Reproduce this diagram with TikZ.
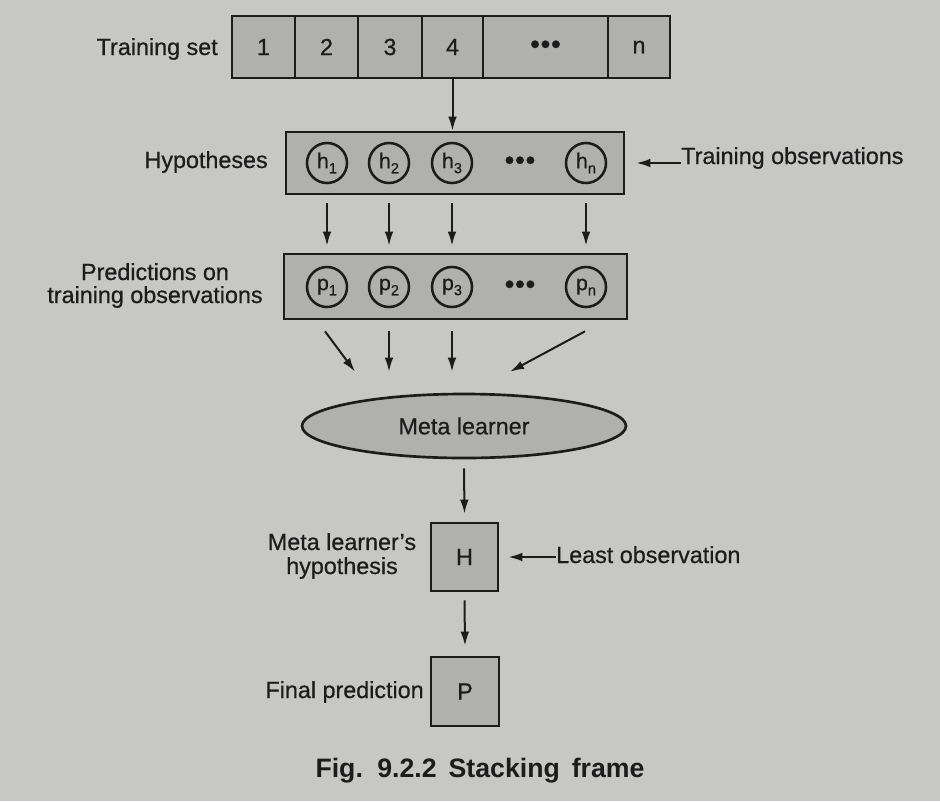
\documentclass[tikz,border=0pt]{standalone}
\usepackage{fontspec}
\setmainfont{Liberation Sans}
\newfontfamily\lblfam{Liberation Sans}[FakeBold=0.6,Ligatures=TeX]
\usetikzlibrary{arrows.meta,shapes.geometric,calc}
\definecolor{bg}{RGB}{199,200,198}
\definecolor{boxfill}{RGB}{176,177,175}
\definecolor{ink}{RGB}{28,28,28}
\newcommand\lblfont{\lblfam\fontsize{17.5pt}{21pt}\selectfont}
\newcommand\subidx[1]{\raisebox{-0.45ex}{\fontsize{11pt}{11pt}\selectfont #1}}
\newcommand\tdots{\raisebox{-2.2pt}{\fontsize{21pt}{21pt}\selectfont\char"2022\kern0.5pt\char"2022\kern0.5pt\char"2022}}
\begin{document}
\begin{tikzpicture}[x=0.75pt,y=-0.75pt,
  lbl/.style={inner sep=0pt,font=\lblfont,text=ink},
  cell/.style={draw=ink,line width=2pt,fill=boxfill,inner sep=0pt,minimum height=62*0.75pt,font=\lblfont,text=ink},
  circ/.style={circle,draw=ink,line width=1.9pt,minimum size=40*0.75pt,inner sep=0pt,font=\lblfam\fontsize{16pt}{16pt}\selectfont,text=ink},
  arr/.style={-{Latex[length=10.5pt,width=6.5pt]},line width=1.5pt,draw=ink}]
\path[fill=bg,use as bounding box] (0,0) rectangle (940,801);

% Training set row
\node[cell,minimum width=63*0.75pt] (c1) at (263.5,47) {1};
\node[cell,minimum width=63*0.75pt] (c2) at (326.5,47) {2};
\node[cell,minimum width=64*0.75pt] (c3) at (390,47) {3};
\node[cell,minimum width=61*0.75pt] (c4) at (452.5,47) {4};
\node[cell,minimum width=125*0.75pt] (c5) at (545.5,47) {\tdots};
\node[cell,minimum width=62*0.75pt] (c6) at (639,47) {n};
\node[lbl,anchor=base east] (ts) at (218,55) {Training set};

% Hypotheses
\node[cell,minimum width=338*0.75pt,minimum height=62*0.75pt] (hyp) at (455,163) {};
\node[circ] (h1) at (327,163) {h\subidx{1}};
\node[circ] (h2) at (389,163) {h\subidx{2}};
\node[circ] (h3) at (452,163) {h\subidx{3}};
\node[lbl] (hd) at (520,163) {\tdots};
\node[circ] (hn) at (586,163) {h\subidx{n}};
\node[lbl,anchor=base east] (hl) at (268,168) {Hypotheses};
\node[lbl,anchor=base west] (tobs) at (681,164) {Training observations};
\draw[arr] (tobs.west|-hyp.east) -- ($(hyp.east)+(11,0)$);
\draw[arr] (c4.south) -- (c4.south|-hyp.north);

% Predictions
\node[cell,minimum width=343*0.75pt,minimum height=65*0.75pt] (pred) at (455.5,286.5) {};
\node[circ] (p1) at (327,287) {p\subidx{1}};
\node[circ] (p2) at (389,287) {p\subidx{2}};
\node[circ] (p3) at (452,287) {p\subidx{3}};
\node[lbl] (pd) at (520,287) {\tdots};
\node[circ] (pn) at (586,287) {p\subidx{n}};
\node[lbl,anchor=base] (pl1) at (155,280) {Predictions on};
\node[lbl,anchor=base] (pl2) at (155,303) {training observations};

\foreach \a/\b in {h1/p1,h2/p2,h3/p3,hn/pn}
  \draw[arr] ($(\a|-hyp.south)+(0,8)$) -- ($(\b|-pred.north)+(0,-7)$);

% Meta learner
\node[ellipse,draw=ink,line width=2pt,fill=boxfill,minimum width=324*0.75pt,minimum height=64*0.75pt,inner sep=0pt,font=\lblfont,text=ink] (meta) at (464,426) {Meta learner};
\draw[arr] ($(p1|-pred.south)+(-2,11)$) -- ($(meta.north)+(-109,-21)$);
\draw[arr] ($(p2|-pred.south)+(0,11)$) -- ($(meta.north)+(-75,-21)$);
\draw[arr] ($(p3|-pred.south)+(0,11)$) -- ($(meta.north)+(-12,-21)$);
\draw[arr] ($(pn|-pred.south)+(-1,11)$) -- ($(meta.north)+(46,-21)$);

% H and P
\node[cell,minimum width=67*0.75pt,minimum height=68*0.75pt] (H) at (464.5,557) {H};
\node[cell,minimum width=68*0.75pt,minimum height=69*0.75pt] (P) at (465,691.5) {P};
\draw[arr] ($(meta.south)+(0,9)$) -- ($(H.north)+(0,-8)$);
\draw[arr] ($(H.south)+(0,8)$) -- ($(P.north)+(0,-10)$);
\node[lbl,anchor=base] (ml1) at (342,550) {Meta learner’s};
\node[lbl,anchor=base] (ml2) at (342,574) {hypothesis};
\node[lbl,anchor=base west] (lo) at (556,563) {Least observation};
\draw[arr] (lo.west|-H.east) -- ($(H.east)+(9,0)$);
\node[lbl,anchor=base east] (fp) at (424,698) {Final prediction};

% Caption
\node[inner sep=0pt,font=\fontsize{20pt}{24pt}\selectfont\bfseries,text=ink,anchor=base] (cap) at (480,777) {\spaceskip=0.45em Fig. 9.2.2 Stacking frame};
\end{tikzpicture}
\end{document}
